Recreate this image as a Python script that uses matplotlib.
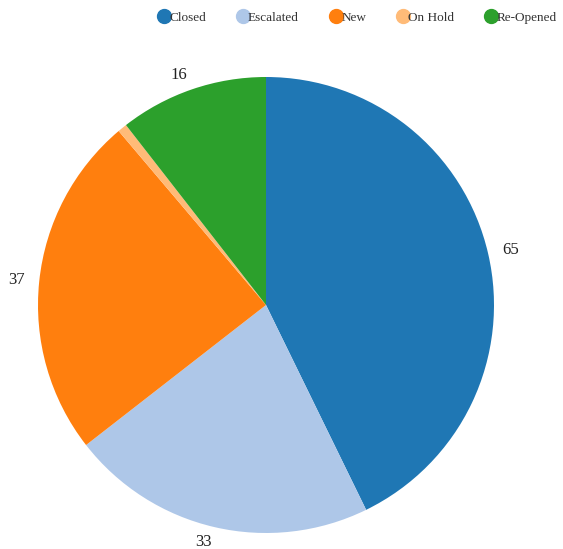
import matplotlib
matplotlib.use('Agg')
import matplotlib.pyplot as plt
from matplotlib.lines import Line2D

categories = ['Closed', 'Escalated', 'New', 'On Hold', 'Re-Opened']
values = [65, 33, 37, 1, 16]
colors = ['#1f77b4', '#aec7e8', '#ff7f0e', '#ffbb78', '#2ca02c']
shown = [str(v) if v > 1 else '' for v in values]

plt.rcParams['font.family'] = ['Liberation Serif', 'DejaVu Serif']

fig = plt.figure(figsize=(5.63, 5.49), dpi=100)
ax = fig.add_axes([0, 0, 1, 1])
cx, cy = 266, 305
ax.pie(values, labels=shown, colors=colors, startangle=90, counterclock=False,
       radius=228, center=(0, 0), labeldistance=1.065,
       wedgeprops=dict(linewidth=0),
       textprops=dict(fontsize=12, color='#222222'))
ax.set_xlim(-cx, 563 - cx)
ax.set_ylim(-(549 - cy), cy)
ax.set_aspect('equal')
ax.axis('off')

handles = [Line2D([], [], marker='o', linestyle='', markersize=10,
                  markerfacecolor=c, markeredgecolor=c) for c in colors]
fig.legend(handles, categories, loc='upper right', bbox_to_anchor=(1.01, 1.0),
           ncol=5, frameon=False, fontsize=9.5, handletextpad=-0.2,
           columnspacing=2.2, handlelength=1.2,
           labelcolor='#333333')

fig.savefig('out.png', dpi=100)
